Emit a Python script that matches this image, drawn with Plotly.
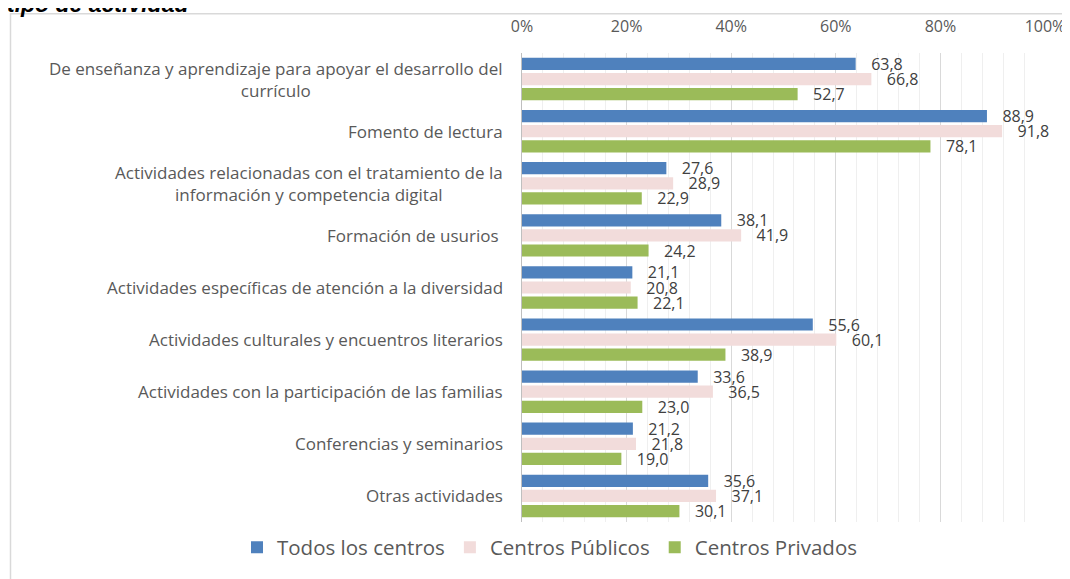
import plotly.graph_objects as go

categories = [
    "De enseñanza y aprendizaje para apoyar el desarrollo del<br>currículo",
    "Fomento de lectura",
    "Actividades relacionadas con el tratamiento de la<br>información y competencia digital",
    "Formación de usurios ",
    "Actividades específicas de atención a la diversidad",
    "Actividades culturales y encuentros literarios",
    "Actividades con la participación de las familias",
    "Conferencias y seminarios",
    "Otras actividades",
]
todos = [63.8, 88.9, 27.6, 38.1, 21.1, 55.6, 33.6, 21.2, 35.6]
publicos = [66.8, 91.8, 28.9, 41.9, 20.8, 60.1, 36.5, 21.8, 37.1]
privados = [52.7, 78.1, 22.9, 24.2, 22.1, 38.9, 23.0, 19.0, 30.1]
series_names = ["Todos los centros", "Centros Públicos", "Centros Privados"]
x_ticks = [0, 20, 40, 60, 80, 100]
x_ticktext = ["0%", "20%", "40%", "60%", "80%", "100%"]

colors = ["#4F81BD", "#F2DCDB", "#9BBB59"]
FONT = "Open Sans"

OFF = 8  # default page body margin
W, H = 1062, 571
L, R, T, B = 514, 25, 45, 47
pw, ph = W - L - R, H - T - B

def px_x(p):
    return (p - OFF - L) / pw

def px_y(p):
    return (H - B - (p - OFF)) / ph

fig = go.Figure()
for name, vals, col in zip(series_names, [todos, publicos, privados], colors):
    fig.add_trace(go.Bar(
        y=categories, x=vals, name=name, orientation="h",
        marker=dict(color=col, line=dict(width=0)),
        texttemplate="\u00a0\u00a0\u00a0%{x:.1f}", textposition="outside",
        constraintext="none",
        textfont=dict(size=16, color="#404040", family=FONT),
        cliponaxis=False,
    ))

for c in categories:
    fig.add_annotation(
        x=px_x(505), xref="paper", y=c, yref="y", text=c, showarrow=False,
        xanchor="right", yanchor="middle", align="center",
        font=dict(size=17, color="#595959", family=FONT),
    )

fig.add_annotation(
    x=px_x(5), xref="paper", y=px_y(3), yref="paper", text="<b><i>tipo de actividad</i></b>",
    showarrow=False, xanchor="left", yanchor="middle",
    font=dict(size=23, color="#000000", family="Liberation Sans"),
)

fig.add_shape(type="rect", xref="paper", yref="paper",
              x0=px_x(10.5), x1=px_x(1090), y0=px_y(600), y1=px_y(13),
              line=dict(color="#d9d9d9", width=1.5), fillcolor="rgba(0,0,0,0)", layer="below")

fig.update_layout(
    width=W, height=H,
    margin=dict(l=L, r=R, t=T, b=B, pad=0),
    paper_bgcolor="white", plot_bgcolor="white",
    barmode="group", bargap=0.13, bargroupgap=0.19,
    separators=",.",
    showlegend=True,
    legend=dict(orientation="h", xref="paper", yref="paper",
                x=px_x(237), y=px_y(558), xanchor="left", yanchor="middle",
                font=dict(size=20.5, color="#595959", family=FONT),
                itemwidth=30, traceorder="normal"),
    xaxis=dict(side="top", range=[0, 100], tickvals=x_ticks, ticktext=x_ticktext,
               showgrid=True, gridcolor="#d9d9d9", gridwidth=1,
               minor=dict(dtick=4, showgrid=True, gridcolor="#efefef", gridwidth=1),
               ticks="outside", ticklen=14, tickcolor="rgba(0,0,0,0)",
               tickfont=dict(size=16, color="#595959", family=FONT),
               zeroline=False, showline=False, fixedrange=True, automargin=False),
    yaxis=dict(autorange="reversed", showticklabels=False, showline=True,
               linecolor="#bfbfbf", linewidth=1, ticks="", showgrid=False,
               fixedrange=True, automargin=False),
)

fig.write_html("out.html")
